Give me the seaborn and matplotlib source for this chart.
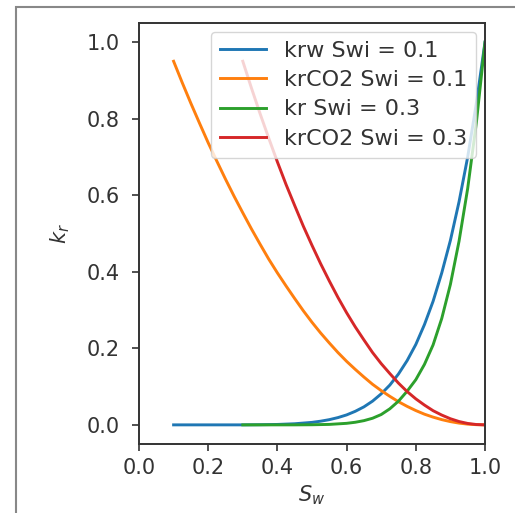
import numpy as np
import pandas as pd
import matplotlib
matplotlib.use("Agg")
import matplotlib.pyplot as plt
import seaborn as sns
from matplotlib.patches import Rectangle

# ---- data ----
sw_krw_01 = [0.10, 0.15, 0.20, 0.25, 0.30, 0.35, 0.40, 0.45, 0.50, 0.525, 0.55, 0.575,
             0.60, 0.625, 0.65, 0.675, 0.70, 0.725, 0.75, 0.775, 0.80, 0.825, 0.85,
             0.875, 0.90, 0.925, 0.95, 0.975, 1.00]
krw_01 = [0.0, 0.0, 0.0, 0.0, 0.0, 0.0004, 0.0011, 0.0029, 0.0065, 0.0096, 0.0136, 0.019,
          0.026, 0.0354, 0.047, 0.062, 0.081, 0.104, 0.133, 0.168, 0.21, 0.262, 0.323,
          0.397, 0.482, 0.583, 0.70, 0.84, 1.0]

sw_krco2_01 = [0.10, 0.125, 0.15, 0.175, 0.20, 0.225, 0.25, 0.275, 0.30, 0.325, 0.35,
               0.375, 0.40, 0.425, 0.45, 0.475, 0.50, 0.525, 0.55, 0.575, 0.60, 0.625,
               0.65, 0.675, 0.70, 0.725, 0.75, 0.775, 0.80, 0.825, 0.85, 0.875, 0.90,
               0.925, 0.95, 0.975, 1.00]
krco2_01 = [0.95, 0.894, 0.840, 0.788, 0.737, 0.689, 0.642, 0.597, 0.554, 0.512, 0.472,
            0.433, 0.397, 0.363, 0.330, 0.298, 0.268, 0.240, 0.214, 0.189, 0.166, 0.145,
            0.125, 0.106, 0.0895, 0.0745, 0.0605, 0.0483, 0.0374, 0.0279, 0.0202, 0.0137,
            0.0085, 0.0046, 0.0019, 0.0005, 0.0]

sw_kr_03 = [0.30, 0.35, 0.40, 0.45, 0.50, 0.55, 0.60, 0.625, 0.65, 0.675, 0.70, 0.725,
            0.75, 0.775, 0.80, 0.825, 0.85, 0.875, 0.90, 0.925, 0.95, 0.975, 1.00]
kr_03 = [0.0, 0.0, 0.0, 0.0, 0.0003, 0.0012, 0.004, 0.0068, 0.011, 0.0173, 0.027, 0.042,
         0.062, 0.088, 0.118, 0.158, 0.209, 0.278, 0.367, 0.480, 0.618, 0.789, 1.0]

sw_krco2_03 = [0.30, 0.325, 0.35, 0.375, 0.40, 0.425, 0.45, 0.475, 0.50, 0.525, 0.55,
               0.575, 0.60, 0.625, 0.65, 0.675, 0.70, 0.725, 0.75, 0.775, 0.80, 0.825,
               0.85, 0.875, 0.90, 0.925, 0.95, 0.975, 1.00]
krco2_03 = [0.95, 0.880, 0.813, 0.749, 0.687, 0.628, 0.573, 0.519, 0.469, 0.421, 0.376,
            0.333, 0.293, 0.256, 0.222, 0.189, 0.160, 0.134, 0.109, 0.087, 0.068, 0.0517,
            0.037, 0.0256, 0.016, 0.0087, 0.0037, 0.0009, 0.0]

labels = ["krw Swi = 0.1", "krCO2 Swi = 0.1", "kr Swi = 0.3", "krCO2 Swi = 0.3"]
colors = ["#1f77b4", "#ff7f0e", "#2ca02c", "#d62728"]

frames = []
for lab, xs, ys in zip(labels,
                       [sw_krw_01, sw_krco2_01, sw_kr_03, sw_krco2_03],
                       [krw_01, krco2_01, kr_03, krco2_03]):
    frames.append(pd.DataFrame({"Sw": xs, "kr": ys, "curve": lab}))
df = pd.concat(frames, ignore_index=True)

plt.rcParams["font.family"] = ["DejaVu Sans"]
plt.rcParams["font.size"] = 15

fig = plt.figure(figsize=(5.15, 5.13), dpi=100)
ax = fig.add_axes([139 / 515, 1 - 444 / 513, (485 - 139) / 515, (444 - 23) / 513])

sns.lineplot(data=df, x="Sw", y="kr", hue="curve", hue_order=labels,
             palette=colors, estimator=None, sort=True, linewidth=2.1, ax=ax)

ax.set_xlim(0, 1)
ax.set_ylim(-0.05, 1.05)
ax.set_xticks([0.0, 0.2, 0.4, 0.6, 0.8, 1.0])
ax.set_yticks([0.0, 0.2, 0.4, 0.6, 0.8, 1.0])
ax.tick_params(labelsize=15, length=5, width=1.2, color="#333333", labelcolor="#333333")
ax.tick_params(axis="y", pad=9)
ax.tick_params(axis="x", pad=5)
for s in ax.spines.values():
    s.set_linewidth(1.4)
    s.set_color("#333333")
ax.set_xlabel("$S_w$", fontsize=15, color="#333333")
ax.set_ylabel("$k_r$", fontsize=15, color="#333333", labelpad=10)

handles, labs = ax.get_legend_handles_labels()
leg = ax.legend(handles, labs, loc="upper right", fontsize=16, framealpha=0.8,
                handlelength=2.1, handletextpad=0.8, borderaxespad=0.4,
                labelspacing=0.42, borderpad=0.4)
for t in leg.get_texts():
    t.set_color("#333333")

# outer screenshot frame
fig.patches.append(Rectangle((16 / 515, -0.1), 1.2, 1 - 7 / 513 + 0.1,
                             transform=fig.transFigure, fill=False,
                             edgecolor="#888888", linewidth=1.5))

fig.savefig("out.png", dpi=100)
